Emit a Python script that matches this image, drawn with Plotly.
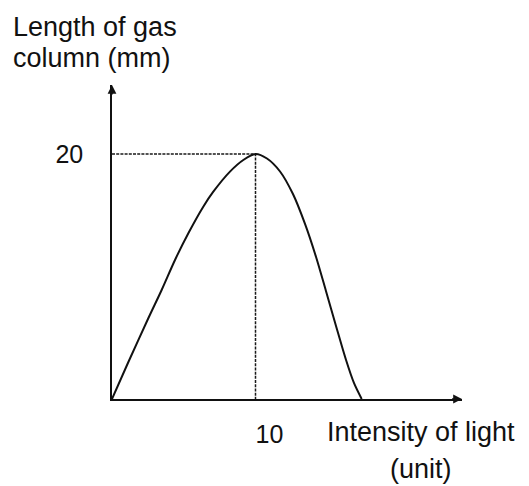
import plotly.graph_objects as go

# Light-response curve: gas column length vs light intensity
intensity = [0.0, 1.11, 2.53, 3.46, 4.39, 5.32, 6.36, 7.06, 8.22, 9.15, 10.0,
             10.80, 11.71, 12.61, 13.45, 14.22, 14.91, 15.61, 16.31, 16.86, 17.40]
gas_length = [0.0, 2.94, 6.59, 8.90, 11.35, 13.53, 15.70, 16.92, 18.56, 19.51, 20.0,
              19.63, 18.57, 16.73, 14.29, 11.59, 8.82, 5.96, 3.18, 1.31, 0.0]

peak_x = 10
peak_y = 20
x_tick_vals = [10]
x_tick_text = ["10"]
y_tick_vals = [20]
y_tick_text = ["20"]

x_max = 24.39
y_max = 25.63

FONT = "Liberation Sans, Arial, sans-serif"
INK = "#111111"

fig = go.Figure()

# Guide lines from the peak to each axis
fig.add_trace(go.Scatter(
    x=[0, peak_x, peak_x], y=[peak_y, peak_y, 0],
    mode="lines", line=dict(color="#1a1a1a", width=1.5, dash="3px,1.2px"),
    hoverinfo="skip", cliponaxis=False,
))

# Response curve
fig.add_trace(go.Scatter(
    x=intensity, y=gas_length, mode="lines",
    line=dict(color=INK, width=2, shape="spline", smoothing=0.8),
    cliponaxis=False,
))

axis_common = dict(showgrid=False, zeroline=False, showline=True,
                   linecolor=INK, linewidth=1.6, ticks="",
                   tickfont=dict(family=FONT, size=25, color=INK))

fig.update_xaxes(range=[0, x_max], tickvals=x_tick_vals, ticktext=x_tick_text,
                 ticklabelshift=14, ticklabelstandoff=12, **axis_common)
fig.update_yaxes(range=[0, y_max], tickvals=y_tick_vals, ticktext=y_tick_text,
                 ticklabelstandoff=22, **axis_common)

# Arrowheads at the ends of both axes
fig.add_annotation(x=x_max, y=0, ax=x_max - 0.8, ay=0, xref="x", yref="y",
                   axref="x", ayref="y", text="", showarrow=True,
                   arrowhead=2, arrowsize=1.1, arrowwidth=1.6, arrowcolor=INK,
                   standoff=0)
fig.add_annotation(x=0, y=y_max, ax=0, ay=y_max - 0.9, xref="x", yref="y",
                   axref="x", ayref="y", text="", showarrow=True,
                   arrowhead=2, arrowsize=1.1, arrowwidth=1.6, arrowcolor=INK,
                   standoff=0)

# Axis titles
label_font = dict(family=FONT, size=27, color=INK)
fig.add_annotation(text="Length of gas", xref="paper", yref="paper",
                   x=(11 - 112) / 350, y=1 + (85 - 27) / 314, xanchor="left",
                   yanchor="middle", showarrow=False, font=label_font)
fig.add_annotation(text="column (mm)", xref="paper", yref="paper",
                   x=(11 - 112) / 350, y=1 + (85 - 58) / 314, xanchor="left",
                   yanchor="middle", showarrow=False, font=label_font)
fig.add_annotation(text="Intensity of light", xref="paper", yref="paper",
                   x=(421 - 112) / 350, y=-(432 - 399) / 314, xanchor="center",
                   yanchor="middle", showarrow=False, font=label_font)
fig.add_annotation(text="(unit)", xref="paper", yref="paper",
                   x=(421 - 112) / 350, y=-(469 - 399) / 314, xanchor="center",
                   yanchor="middle", showarrow=False, font=label_font)

fig.update_layout(
    width=529, height=486,
    margin=dict(l=112, r=67, t=85, b=87),
    paper_bgcolor="white", plot_bgcolor="white",
    showlegend=False,
)

fig.write_html("out.html")
